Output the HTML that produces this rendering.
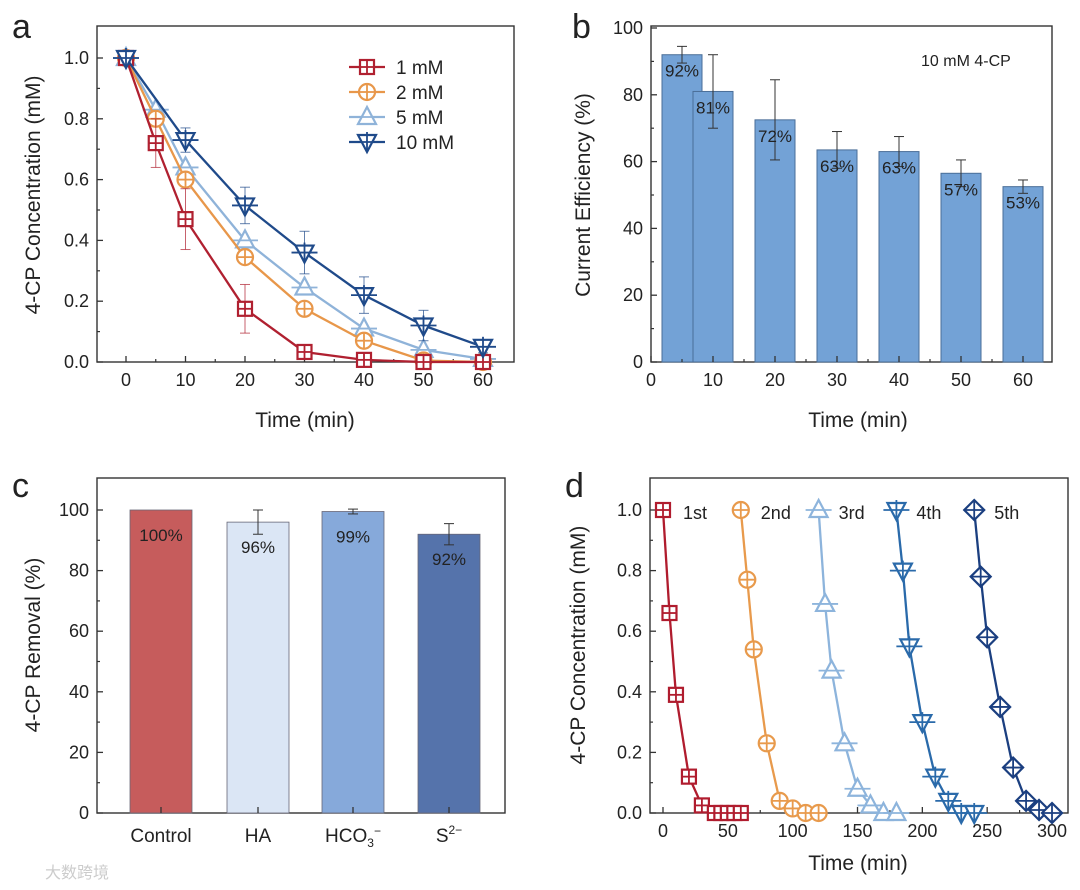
<!DOCTYPE html>
<html><head><meta charset="utf-8"><style>
body{margin:0;background:#fff}
svg{display:block;font-family:"Liberation Sans",Arial,sans-serif}
</style></head><body>
<svg id="s" width="1080" height="890" viewBox="0 0 1080 890"></svg>
<script>
// ---- panel a data ----
const aTimes=[0,5,10,20,30,40,50,60];
const a1=[1.0,0.72,0.47,0.175,0.033,0.007,0,0];
const a2=[1.0,0.80,0.60,0.345,0.175,0.07,0.005,0];
const a5=[1.0,0.83,0.64,0.40,0.245,0.11,0.04,0.01];
const a10T=[0,10,20,30,40,50,60];
const a10=[1.0,0.73,0.515,0.36,0.22,0.12,0.05];
const a1Err=[0,0.08,0.1,0.08,0,0,0,0];
const a10Err=[0,0.04,0.06,0.07,0.06,0.05,0.02];
const aXTicks=[0,10,20,30,40,50,60];
const aYTicks=[0,0.2,0.4,0.6,0.8,1.0];
// ---- panel b data ----
const bTimes=[5,10,20,30,40,50,60];
const bVals=[92,81,72.5,63.5,63,56.5,52.5];
const bErr=[2.5,11,12,5.5,4.5,4,2];
const bLabels=["92%","81%","72%","63%","63%","57%","53%"];
const bXTicks=[0,10,20,30,40,50,60];
const bYTicks=[0,20,40,60,80,100];
// ---- panel c data ----
const cCats=["Control","HA","HCO3","S"];
const cVals=[100,96,99.5,92];
const cErr=[0,4,0.8,3.5];
const cLabels=["100%","96%","99%","92%"];
const cYTicks=[0,20,40,60,80,100];
// ---- panel d data ----
const d1T=[0,5,10,20,30,40,45,50,55,60];
const d1=[1.0,0.66,0.39,0.12,0.025,0,0,0,0,0];
const d2T=[60,65,70,80,90,100,110,120];
const d2=[1.0,0.77,0.54,0.23,0.04,0.015,0,0];
const d3T=[120,125,130,140,150,160,170,180];
const d3=[1.0,0.69,0.47,0.23,0.08,0.025,0,0];
const d4T=[180,185,190,200,210,220,230,240];
const d4=[1.0,0.80,0.55,0.30,0.12,0.04,0,0];
const d5T=[240,245,250,260,270,280,290,300];
const d5=[1.0,0.78,0.58,0.35,0.15,0.04,0.01,0];
const dXTicks=[0,50,100,150,200,250,300];
const dYTicks=[0,0.2,0.4,0.6,0.8,1.0];

const S=document.getElementById('s');
const NS="http://www.w3.org/2000/svg";
function el(t,at,txt){const e=document.createElementNS(NS,t);for(const k in at)e.setAttribute(k,at[k]);if(txt!==undefined)e.textContent=txt;S.appendChild(e);return e;}

function frame(x0,y0,x1,y1,name){
 const r=el('rect',{x:x0,y:y0,width:x1-x0,height:y1-y0,fill:'none',stroke:'#333','stroke-width':1.4});
 
 
}
function yAxis(x,ticks,Y,fmt,name,minor){
 ticks.forEach(v=>{const y=Y(v);
  el('line',{x1:x,x2:x+6,y1:y,y2:y,stroke:'#333','stroke-width':1.3});
  const t=el('text',{x:x-8,y:y+6,'text-anchor':'end','font-size':18,fill:'#222'},fmt(v));
  
  
 });
 if(minor)for(let i=0;i<ticks.length-1;i++){const y=Y((ticks[i]+ticks[i+1])/2);el('line',{x1:x,x2:x+3,y1:y,y2:y,stroke:'#333','stroke-width':1.2});}
}
function xAxis(y,ticks,X,name,minor){
 ticks.forEach(v=>{const x=X(v);
  el('line',{x1:x,x2:x,y1:y,y2:y-6,stroke:'#333','stroke-width':1.3});
  const t=el('text',{x:x,y:y+24,'text-anchor':'middle','font-size':18,fill:'#222'},String(v));
  
  
 });
 if(minor)for(let i=0;i<ticks.length-1;i++){const x=X((ticks[i]+ticks[i+1])/2);el('line',{x1:x,x2:x,y1:y,y2:y-3,stroke:'#333','stroke-width':1.2});}
}
function title(x,y,txt,rot,name){
 const t=el('text',{x:x,y:y,'text-anchor':'middle','font-size':21,fill:'#222',transform:rot?`rotate(-90 ${x} ${y})`:''},txt);
 
 
}
function letter(x,y,c){
 const t=el('text',{x:x,y:y,'font-size':34,fill:'#222'},c);
 
 
}
function marker(type,x,y,col){
 const r=8,g={fill:'#fff',stroke:col,'stroke-width':2.2};
 let e;
 if(type==='sq'){e=el('rect',Object.assign({x:x-r+1,y:y-r+1,width:2*r-2,height:2*r-2},g));el('line',{x1:x-r+1,x2:x+r-1,y1:y,y2:y,stroke:col,'stroke-width':1.8});el('line',{x1:x,x2:x,y1:y-r+1,y2:y+r-1,stroke:col,'stroke-width':1.8});}
 else if(type==='ci'){e=el('circle',Object.assign({cx:x,cy:y,r:r},g));el('line',{x1:x-r,x2:x+r,y1:y,y2:y,stroke:col,'stroke-width':1.8});el('line',{x1:x,x2:x,y1:y-r,y2:y+r,stroke:col,'stroke-width':1.8});}
 else if(type==='up'){e=el('polygon',Object.assign({points:`${x},${y-10} ${x-9},${y+7} ${x+9},${y+7}`},g));el('line',{x1:x-13,x2:x+13,y1:y,y2:y,stroke:col,'stroke-width':1.8});}
 else if(type==='dn'){e=el('polygon',Object.assign({points:`${x},${y+10} ${x-9},${y-7} ${x+9},${y-7}`},g));el('line',{x1:x-13,x2:x+13,y1:y,y2:y,stroke:col,'stroke-width':1.8});el('line',{x1:x,x2:x,y1:y-10,y2:y+10,stroke:col,'stroke-width':1.8});}
 else {e=el('polygon',Object.assign({points:`${x},${y-10} ${x+10},${y} ${x},${y+10} ${x-10},${y}`},g));el('line',{x1:x-10,x2:x+10,y1:y,y2:y,stroke:col,'stroke-width':1.8});el('line',{x1:x,x2:x,y1:y-10,y2:y+10,stroke:col,'stroke-width':1.8});}
 return e;
}
function series(ts,vs,X,Y,col,type,name,errs){
 const p=el('polyline',{points:ts.map((t,i)=>X(t)+','+Y(vs[i])).join(' '),fill:'none',stroke:col,'stroke-width':2.3});
 
 
 ts.forEach((t,i)=>{
  if(errs&&errs[i]){const x=X(t);el('line',{x1:x,x2:x,y1:Y(vs[i]-errs[i]),y2:Y(vs[i]+errs[i]),stroke:col,'stroke-width':1,opacity:0.7});
   [vs[i]-errs[i],vs[i]+errs[i]].forEach(v=>el('line',{x1:x-5,x2:x+5,y1:Y(v),y2:Y(v),stroke:col,'stroke-width':1,opacity:0.7}));}
  const m=marker(type,X(t),Y(vs[i]),col);
  
  
 });
}

// ===== Panel a =====
{const X=v=>126+v*5.95, Y=v=>362-v*304;
 frame(97,26,514,362,'panel-a-plot-area');
 yAxis(97,aYTicks,Y,v=>v.toFixed(1),'a-y',true);
 xAxis(362,aXTicks,X,'a-x',true);
 title(305,427,'Time (min)',false,'a-x-axis-title');
 title(40,195,'4-CP Concentration (mM)',true,'a-y-axis-title');
 letter(12,38,'a');
 series(aTimes,a5,X,Y,'#8fb3d9','up','series-5mM');
 series(aTimes,a2,X,Y,'#e8974a','ci','series-2mM');
 series(aTimes,a1,X,Y,'#b02030','sq','series-1mM',a1Err);
 series(a10T,a10,X,Y,'#1f4a8a','dn','series-10mM',a10Err);
 [['1 mM','#b02030','sq'],['2 mM','#e8974a','ci'],['5 mM','#8fb3d9','up'],['10 mM','#1f4a8a','dn']].forEach((l,i)=>{
  const y=67+i*25;
  el('line',{x1:349,x2:385,y1:y,y2:y,stroke:l[1],'stroke-width':2.2});
  marker(l[2],367,y,l[1]);
  const t=el('text',{x:396,y:y+7,'font-size':19,fill:'#222'},l[0]);
  
  
 });
}
// ===== Panel b =====
{const X=v=>651+v*6.2, Y=v=>362-v*3.34;
 frame(651,26,1052,362,'panel-b-plot-area');
 bTimes.forEach((t,i)=>{
  const x=X(t)-20;
  const r=el('rect',{x:x,y:Y(bVals[i]),width:40,height:Y(0)-Y(bVals[i]),fill:'#73a2d6',stroke:'#4a6e98','stroke-width':1});
  
  
 });
 bTimes.forEach((t,i)=>{
  const x=X(t);
  el('line',{x1:x,x2:x,y1:Y(bVals[i]-bErr[i]),y2:Y(bVals[i]+bErr[i]),stroke:'#333','stroke-width':1});
  [bVals[i]-bErr[i],bVals[i]+bErr[i]].forEach(v=>el('line',{x1:x-5,x2:x+5,y1:Y(v),y2:Y(v),stroke:'#333','stroke-width':1}));
  const tx=el('text',{x:x,y:Y(bVals[i])+22,'text-anchor':'middle','font-size':17,fill:'#222'},bLabels[i]);
  
  
 });
 yAxis(651,bYTicks,Y,v=>String(v),'b-y',true);
 xAxis(362,bXTicks,X,'b-x',true);
 title(858,427,'Time (min)',false,'b-x-axis-title');
 title(590,195,'Current Efficiency (%)',true,'b-y-axis-title');
 const n=el('text',{x:921,y:66,'font-size':16,fill:'#222'},'10 mM 4-CP');
 
 
 letter(572,38,'b');
}
// ===== Panel c =====
{const Y=v=>813-v*3.03;
 const cx=[161,258,353,449];
 const cols=['#c65c5c','#dbe6f5','#86a9da','#5573ab'];
 frame(97,478,505,813,'panel-c-plot-area');
 cCats.forEach((c,i)=>{
  const r=el('rect',{x:cx[i]-31,y:Y(cVals[i]),width:62,height:Y(0)-Y(cVals[i]),fill:cols[i],stroke:'#667','stroke-width':0.8});
  
  
  if(cErr[i]){el('line',{x1:cx[i],x2:cx[i],y1:Y(cVals[i]-cErr[i]),y2:Y(cVals[i]+cErr[i]),stroke:'#333','stroke-width':1});
   [cVals[i]-cErr[i],cVals[i]+cErr[i]].forEach(v=>el('line',{x1:cx[i]-5,x2:cx[i]+5,y1:Y(v),y2:Y(v),stroke:'#333','stroke-width':1}));}
  const t=el('text',{x:cx[i],y:Y(cVals[i])+31,'text-anchor':'middle','font-size':17,fill:'#222'},cLabels[i]);
  
  
  el('line',{x1:cx[i],x2:cx[i],y1:813,y2:807,stroke:'#333','stroke-width':1.3});
 });
 yAxis(97,cYTicks,Y,v=>String(v),'c-y',true);
 const labs=['Control','HA','HCO<tspan font-size="12" dy="5">3</tspan><tspan font-size="12" dy="-12">−</tspan>','S<tspan font-size="12" dy="-8">2−</tspan>'];
 labs.forEach((l,i)=>{const t=el('text',{x:cx[i],y:842,'text-anchor':'middle','font-size':19,fill:'#222'});t.innerHTML=l;
  
  });
 title(40,645,'4-CP Removal (%)',true,'c-y-axis-title');
 letter(12,497,'c');
}
// ===== Panel d =====
{const X=v=>663+v*1.2967, Y=v=>813-v*303;
 frame(650,478,1068,813,'panel-d-plot-area');
 yAxis(650,dYTicks,Y,v=>v.toFixed(1),'d-y',true);
 xAxis(813,dXTicks,X,'d-x',true);
 title(858,870,'Time (min)',false,'d-x-axis-title');
 title(585,645,'4-CP Concentration (mM)',true,'d-y-axis-title');
 letter(565,497,'d');
 const sets=[[d1T,d1,'#b01c2e','sq','1st'],[d2T,d2,'#e89a4c','ci','2nd'],[d3T,d3,'#8db4dc','up','3rd'],[d4T,d4,'#2a6aaa','dn','4th'],[d5T,d5,'#1b3f80','di','5th']];
 sets.forEach(s=>{
  series(s[0],s[1],X,Y,s[2],s[3],'cycle-'+s[4]);
  const t=el('text',{x:X(s[0][0])+20,y:Y(1)+9,'font-size':18,fill:'#222'},s[4]);
  
  
 });
}
// watermark
{const t=el('text',{x:45,y:878,'font-size':16,fill:'#ccc','font-family':'"Liberation Sans","Noto Sans CJK SC",sans-serif'},'大数跨境');
 
 }
</script>
</body></html>
